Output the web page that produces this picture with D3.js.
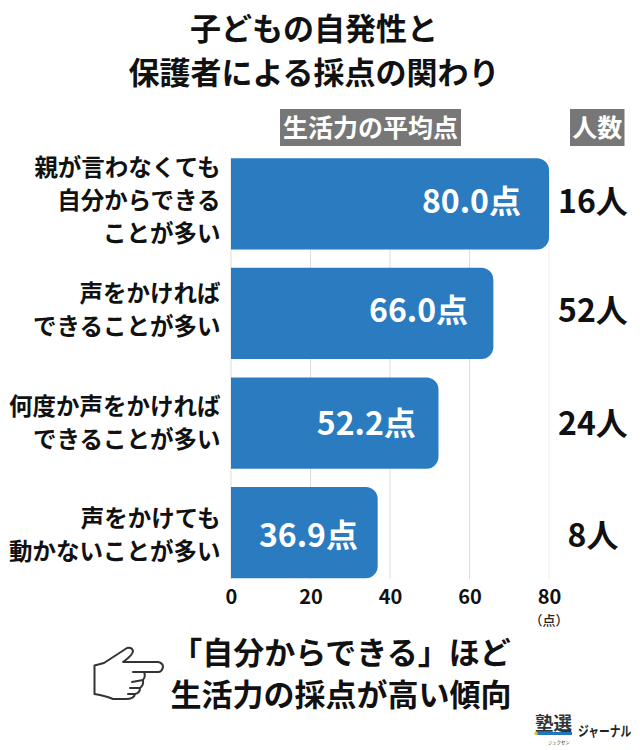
<!DOCTYPE html>
<html lang="ja"><head><meta charset="utf-8">
<script src="https://cdn.jsdelivr.net/npm/d3@7"></script>
<style>html,body{margin:0;padding:0;background:#fff}svg{display:block}text{font-family:"Noto Sans CJK JP","Noto Sans",sans-serif}</style>
</head><body><svg id="c" width="640" height="750"></svg>
<script>
const categories = [
  ["親が言わなくても","自分からできる","ことが多い"],
  ["声をかければ","できることが多い"],
  ["何度か声をかければ","できることが多い"],
  ["声をかけても","動かないことが多い"]
];
const scores = [80.0, 66.0, 52.2, 36.9];
const counts = [16, 52, 24, 8];
const ticks = [0, 20, 40, 60, 80];
const titleLines = ["子どもの自発性と","保護者による採点の関わり"];
const footerLines = ["「自分からできる」ほど","生活力の採点が高い傾向"];

const svg = d3.select("#c");
const x = d3.scaleLinear().domain([0,80]).range([231,549]);
const y = d3.scaleBand().domain(d3.range(4)).range([149,587.5]).paddingInner(0.168).paddingOuter(0.084);
// the value labels sit on their own slightly narrower scale in the reference
const labelX = d3.scaleLinear().domain([36.9,80]).range([358,521]);
// hand-placed vertical nudge of each row's texts
const rowShift = [-3,-3,0,2];
const mid = i => y(i)+y.bandwidth()/2+rowShift[i];

// titles
svg.selectAll(".title").data(titleLines).join("text").attr("class","title")
  .attr("x",314).attr("y",(d,i)=>40+i*44).attr("text-anchor","middle")
  .attr("font-size",31).attr("font-weight",700).attr("fill","#111").text(d=>d);

// header labels
[[280,461,"生活力の平均点"],[570,624.5,"人数"]].forEach(([a,b,t])=>{
  svg.append("rect").attr("x",a).attr("y",109).attr("width",b-a).attr("height",37).attr("fill","#777");
  svg.append("text").attr("x",(a+b)/2).attr("y",137).attr("text-anchor","middle")
    .attr("font-size",25).attr("font-weight",700).attr("fill","#fff").text(t);
});

// grid + axis
const axis = d3.axisBottom(x).tickValues(ticks).tickSize(0).tickPadding(0);
const gAxis = svg.append("g").attr("transform","translate(0,578)").call(axis);
gAxis.select(".domain").remove();
gAxis.selectAll("text").attr("y",26).attr("dy",0).attr("font-size",20).attr("font-weight",700)
  .attr("fill","#111").style("font-family",'"Noto Sans CJK JP"');
svg.selectAll(".grid").data(ticks).join("line").attr("class","grid")
  .attr("x1",d=>x(d)).attr("x2",d=>x(d)).attr("y1",158).attr("y2",579)
  .attr("stroke",d=>d===80?"#eee":"#dcdcdc").attr("stroke-width",1);
svg.append("text").attr("x",549).attr("y",625).attr("text-anchor","middle")
  .attr("font-size",13).attr("font-weight",500).attr("fill","#222").text("（点）");

// bars: rounded at right end only
const r = 12;
svg.selectAll(".bar").data(scores).join("path").attr("class","bar").attr("fill","#2a7bbf")
  .attr("d",(d,i)=>{
    const p = d3.path(), x0=x(0), x1=x(d), t=y(i), b=t+y.bandwidth();
    p.moveTo(x0,t); p.lineTo(x1-r,t); p.arcTo(x1,t,x1,t+r,r); p.lineTo(x1,b-r); p.arcTo(x1,b,x1-r,b,r); p.lineTo(x0,b); p.closePath();
    return p.toString();
  });
svg.selectAll(".val").data(scores).join("text").attr("class","val")
  .attr("x",d=>labelX(d)).attr("y",(d,i)=>mid(i)+12).attr("text-anchor","end")
  .attr("font-size",32).attr("font-weight",700).attr("fill","#fff").text(d=>d.toFixed(1)+"点");

// counts
svg.selectAll(".cnt").data(counts).join("text").attr("class","cnt")
  .attr("x",593).attr("y",(d,i)=>mid(i)+12).attr("text-anchor","middle")
  .attr("font-size",32).attr("font-weight",700).attr("fill","#111").text(d=>d+"人");

// category labels
categories.forEach((lines,i)=>{
  lines.forEach((l,j)=>{
    svg.append("text").attr("x",220.5).attr("y",mid(i)+(j-(lines.length-1)/2)*33+8.5).attr("text-anchor","end")
      .attr("font-size",23.5).attr("font-weight",700).attr("fill","#111").text(l);
  });
});

// footer
svg.selectAll(".foot").data(footerLines).join("text").attr("class","foot")
  .attr("x",341).attr("y",(d,i)=>664+i*42).attr("text-anchor","middle")
  .attr("font-size",31).attr("font-weight",700).attr("fill","#111").text(d=>d);

// hand icon
const hand = svg.append("g").attr("transform","translate(80,620)").attr("fill","none").attr("stroke","#333").attr("stroke-width",2).attr("stroke-linejoin","round").attr("stroke-linecap","round");
hand.append("path").attr("d","M14.5 45.5 L24 43 L47 28 Q52 27 53 31 Q53 35 43 42 L78 42 Q83 43 83 47 Q82 52 78 52 L64 52 Q66 56 63 60 Q64 65 60 68 Q60 73 55 74 Q54 79 46 79 L33 79 Q26 76 14.5 74 Z");
hand.append("path").attr("d","M53 52 L64 52 M52 62 L63 60 M50 68 L60 68 M48 74 L55 74");

// logo
svg.append("text").attr("x",535).attr("y",730).attr("font-size",18.5).attr("font-weight",700).attr("fill","#333").text("塾選");
svg.append("rect").attr("x",537).attr("y",732).attr("width",35).attr("height",3).attr("fill","#1d78c1");
svg.append("rect").attr("x",534.5).attr("y",732).attr("width",3).attr("height",3).attr("fill","#e8c33c");
svg.append("text").attr("x",559).attr("y",744).attr("text-anchor","middle").attr("font-size",4.5).attr("fill","#333").text("ジュクセン");
svg.append("text").attr("transform","translate(578,736) scale(0.77,1)").attr("font-size",14).attr("font-weight",700).attr("fill","#222").text("ジャーナル");
</script></body></html>
